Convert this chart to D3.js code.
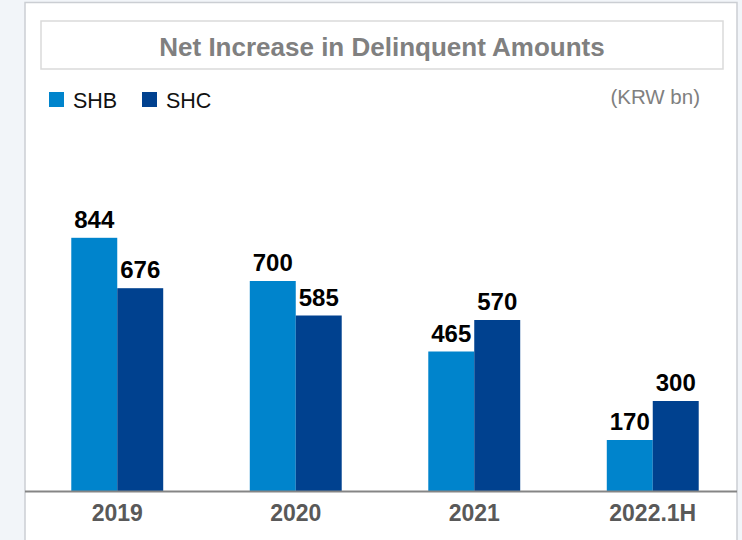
<!DOCTYPE html>
<html>
<head>
<meta charset="utf-8">
<script src="https://cdn.jsdelivr.net/npm/d3@7"></script>
<style>
  html, body { margin: 0; padding: 0; background: #f2f5f9; }
  svg { display: block; }
</style>
</head>
<body>
<svg id="chart" width="742" height="540"></svg>
<script>
// Net increase in delinquent amounts (KRW bn)
const periods = ["2019", "2020", "2021", "2022.1H"];
const seriesNames = ["SHB", "SHC"];
const shbValues = [844, 700, 465, 170];
const shcValues = [676, 585, 570, 300];
const seriesColors = ["#0084cc", "#00418f"];

const svg = d3.select("#chart");
const W = 742, H = 540;
const font = "'Liberation Sans', Arial, Helvetica, sans-serif";

// white panel
svg.append("rect").attr("x", 25).attr("y", 2.5).attr("width", 712).attr("height", H)
  .attr("fill", "#ffffff").attr("stroke", "#cbced3").attr("stroke-width", 1.5);

// title box
svg.append("rect").attr("x", 41).attr("y", 21).attr("width", 682).attr("height", 48)
  .attr("fill", "#ffffff").attr("stroke", "#dadada").attr("stroke-width", 1.5);
svg.append("text").attr("x", 382).attr("y", 56).attr("text-anchor", "middle")
  .attr("font-family", font).attr("font-weight", "bold").attr("font-size", 26)
  .attr("fill", "#808080").text("Net Increase in Delinquent Amounts");

// legend
const legendX = [49, 142];
seriesNames.forEach((name, i) => {
  svg.append("rect").attr("x", legendX[i]).attr("y", 92).attr("width", 15).attr("height", 15)
    .attr("fill", seriesColors[i]);
  svg.append("text").attr("x", legendX[i] + 24).attr("y", 107.5)
    .attr("font-family", font).attr("font-size", 21.5).attr("fill", "#111")
    .text(name);
});
svg.append("text").attr("x", 700).attr("y", 104).attr("text-anchor", "end")
  .attr("font-family", font).attr("font-size", 20.5).attr("fill", "#808080")
  .text("(KRW bn)");

// scales
const baseY = 491;
const x = d3.scaleBand().domain(periods).range([28, 742]).paddingInner(0.485).paddingOuter(0.2425);
const xs = d3.scaleBand().domain(seriesNames).range([0, x.bandwidth()]);
const y = d3.scaleLinear().domain([0, 1000]).range([baseY, baseY - 300]);

const rows = periods.map((p, i) => ({ period: p, values: [shbValues[i], shcValues[i]] }));

const groups = svg.append("g").selectAll("g").data(rows).join("g")
  .attr("transform", d => `translate(${x(d.period)},0)`);

groups.selectAll("rect").data(d => d.values.map((v, j) => ({ key: seriesNames[j], v, j })))
  .join("rect")
  .attr("x", d => xs(d.key))
  .attr("y", d => y(d.v))
  .attr("width", xs.bandwidth())
  .attr("height", d => y(0) - y(d.v))
  .attr("fill", d => seriesColors[d.j]);

groups.selectAll("text").data(d => d.values.map((v, j) => ({ key: seriesNames[j], v, j })))
  .join("text")
  .attr("x", d => xs(d.key) + xs.bandwidth() / 2)
  .attr("y", d => y(d.v) - 10)
  .attr("text-anchor", "middle")
  .attr("font-family", font).attr("font-weight", "bold").attr("font-size", 24)
  .attr("fill", "#000")
  .text(d => d.v);

// x axis
const xAxis = d3.axisBottom(x).tickSize(0).tickPadding(14);
const ax = svg.append("g").attr("transform", `translate(0,${baseY})`).call(xAxis);
ax.select(".domain").remove();
ax.selectAll("text").attr("font-family", font).attr("font-weight", "bold")
  .attr("font-size", 23).attr("fill", "#595959").attr("dy", "0.71em");
svg.append("line").attr("x1", 25).attr("x2", 737).attr("y1", baseY + 0.5).attr("y2", baseY + 0.5)
  .attr("stroke", "#858585").attr("stroke-width", 2);
</script>
</body>
</html>
